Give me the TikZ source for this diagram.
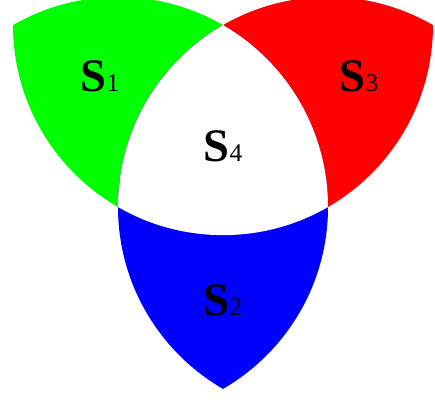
\documentclass[tikz,border=0pt]{standalone}
\usepackage{fontspec}
\setmainfont{Liberation Serif}
\usetikzlibrary{positioning}

\tikzset{
  setlabel/.style={font=\fontsize{26.5}{26.5}\selectfont\bfseries, inner sep=0pt},
}
\newcommand{\setname}[1]{S{\fontsize{14.5}{14.5}\selectfont\mdseries #1}}

\begin{document}
\begin{tikzpicture}
  \def\side{4.2}
  % Vertices of the triangle (circle centres)
  \coordinate (L) at (0,0);
  \coordinate (R) at (\side,0);
  \coordinate (T) at (60:\side);
  % Frame
  \clip (-2.36,-3.92) rectangle (6.34,4.14);
  % S1: inside L and T
  \begin{scope}
    \clip (L) circle (\side);
    \fill[green] (T) circle (\side);
  \end{scope}
  % S3: inside T and R
  \begin{scope}
    \clip (T) circle (\side);
    \fill[red] (R) circle (\side);
  \end{scope}
  % S2: inside L and R
  \begin{scope}
    \clip (L) circle (\side);
    \fill[blue] (R) circle (\side);
  \end{scope}
  % S4: inside all three
  \begin{scope}
    \clip (L) circle (\side);
    \clip (T) circle (\side);
    \fill[white] (R) circle (\side);
  \end{scope}
  % Labels
  \node[setlabel] (s4) at (2.1,1.22) {\setname{4}};
  \node[setlabel] (s1) at (-0.36,2.62) {\setname{1}};
  \node[setlabel] (s3) at (4.82,2.62) {\setname{3}};
  \node[setlabel] (s2) at (2.1,-1.86) {\setname{2}};
\end{tikzpicture}
\end{document}
